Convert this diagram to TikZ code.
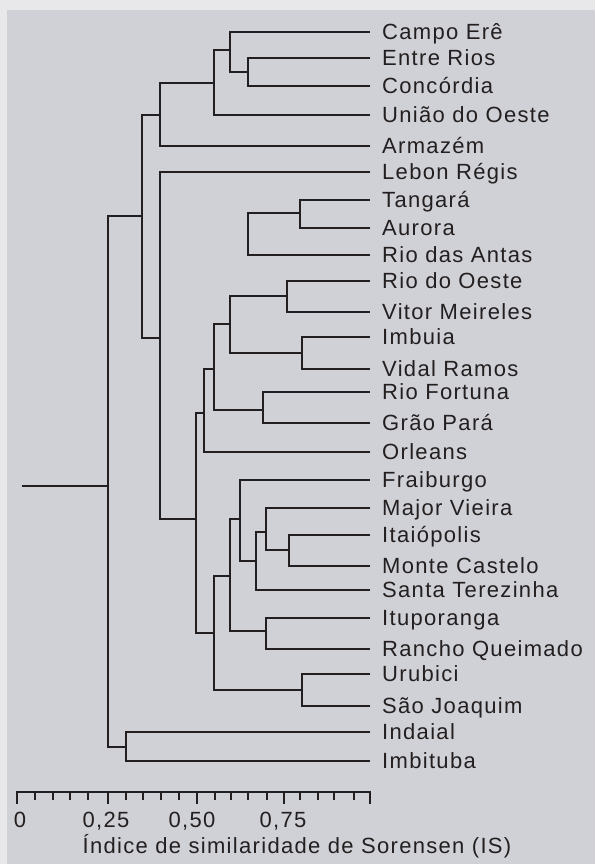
\documentclass[tikz,border=0pt]{standalone}
\usepackage{fontspec}
\setmainfont{Liberation Sans}[LetterSpace=6]
\definecolor{outerbg}{HTML}{E8E8EA}
\definecolor{panelbg}{HTML}{D0D1D6}
\definecolor{ink}{HTML}{231F20}
\begin{document}
\begin{tikzpicture}[x=1pt,y=-1pt,
    branch/.style={draw=ink,line width=2.8pt},
    leaf/.style={anchor=west,inner xsep=12pt,inner ysep=0pt,text height=15.8pt,text depth=0pt,
        text=ink,font=\fontsize{22}{24}\selectfont},
    scalelab/.style={anchor=base,inner sep=0pt,text=ink,font=\fontsize{22}{24}\selectfont}]
    \fill[outerbg] (0,0) rectangle (595,864);
    \fill[panelbg] (7,10) rectangle (595,864);

    \node[leaf] (campo) at (370,32) {Campo Erê};
    \node[leaf] (entre) at (370,58) {Entre Rios};
    \node[leaf] (concordia) at (370,86) {Concórdia};
    \node[leaf] (uniao) at (370,115) {União do Oeste};
    \node[leaf] (armazem) at (370,146) {Armazém};
    \node[leaf] (lebon) at (370,172) {Lebon Régis};
    \node[leaf] (tangara) at (370,200) {Tangará};
    \node[leaf] (aurora) at (370,228) {Aurora};
    \node[leaf] (antas) at (370,255) {Rio das Antas};
    \node[leaf] (riooeste) at (370,281) {Rio do Oeste};
    \node[leaf] (vitor) at (370,312) {Vitor Meireles};
    \node[leaf] (imbuia) at (370,337) {Imbuia};
    \node[leaf] (vidal) at (370,369) {Vidal Ramos};
    \node[leaf] (fortuna) at (370,392) {Rio Fortuna};
    \node[leaf] (grao) at (370,423) {Grão Pará};
    \node[leaf] (orleans) at (370,452) {Orleans};
    \node[leaf] (fraiburgo) at (370,480) {Fraiburgo};
    \node[leaf] (major) at (370,508) {Major Vieira};
    \node[leaf] (itaiopolis) at (370,535) {Itaiópolis};
    \node[leaf] (monte) at (370,566) {Monte Castelo};
    \node[leaf] (santa) at (370,590) {Santa Terezinha};
    \node[leaf] (ituporanga) at (370,618) {Ituporanga};
    \node[leaf] (rancho) at (370,649) {Rancho Queimado};
    \node[leaf] (urubici) at (370,674) {Urubici};
    \node[leaf] (saojoaquim) at (370,706) {São Joaquim};
    \node[leaf] (indaial) at (370,732) {Indaial};
    \node[leaf] (imbituba) at (370,761) {Imbituba};

    \coordinate (nEC) at (248,72);
    \coordinate (nCE) at (230,50);
    \coordinate (nUO) at (214,83);
    \coordinate (nAR) at (160,115);
    \coordinate (nTop) at (142,216);
    \coordinate (nLB) at (160,338);
    \coordinate (nTA) at (300,213);
    \coordinate (nTR) at (248,234);
    \coordinate (nRV) at (287,296);
    \coordinate (nIV) at (302,353);
    \coordinate (nJ) at (230,324);
    \coordinate (nFG) at (263,410);
    \coordinate (nL) at (214,369);
    \coordinate (nOR) at (204,413);
    \coordinate (nG) at (196,519);
    \coordinate (nIM) at (289,550);
    \coordinate (nMJ) at (266,532);
    \coordinate (nST) at (256,561);
    \coordinate (nFR) at (240,519);
    \coordinate (nIR) at (266,631);
    \coordinate (nF) at (230,576);
    \coordinate (nUS) at (302,690);
    \coordinate (nS) at (214,633);
    \coordinate (nIB) at (126,747);
    \coordinate (root) at (108,486);
    \coordinate (stub) at (22,486);

    \draw[branch] (entre.west) -| (nEC) |- (concordia.west);
    \draw[branch] (campo.west) -| (nCE) |- (nEC);
    \draw[branch] (nCE) -| (nUO) |- (uniao.west);
    \draw[branch] (nUO) -| (nAR) |- (armazem.west);
    \draw[branch] (nAR) -| (nTop) |- (nLB);
    \draw[branch] (lebon.west) -| (nLB) |- (nG);
    \draw[branch] (tangara.west) -| (nTA) |- (aurora.west);
    \draw[branch] (nTA) -| (nTR) |- (antas.west);
    \draw[branch] (riooeste.west) -| (nRV) |- (vitor.west);
    \draw[branch] (imbuia.west) -| (nIV) |- (vidal.west);
    \draw[branch] (nRV) -| (nJ) |- (nIV);
    \draw[branch] (fortuna.west) -| (nFG) |- (grao.west);
    \draw[branch] (nJ) -| (nL) |- (nFG);
    \draw[branch] (nL) -| (nOR) |- (orleans.west);
    \draw[branch] (nOR) -| (nG) |- (nS);
    \draw[branch] (itaiopolis.west) -| (nIM) |- (monte.west);
    \draw[branch] (major.west) -| (nMJ) |- (nIM);
    \draw[branch] (nMJ) -| (nST) |- (santa.west);
    \draw[branch] (fraiburgo.west) -| (nFR) |- (nST);
    \draw[branch] (ituporanga.west) -| (nIR) |- (rancho.west);
    \draw[branch] (nFR) -| (nF) |- (nIR);
    \draw[branch] (urubici.west) -| (nUS) |- (saojoaquim.west);
    \draw[branch] (nF) -| (nS) |- (nUS);
    \draw[branch] (indaial.west) -| (nIB) |- (imbituba.west);
    \draw[branch] (nTop) -| (root) |- (nIB);
    \draw[branch] (stub) -- (root);

    \draw[branch] (17,804) -- (17,792) -- (370,792) -- (370,804);
    \foreach \tx in {108,197,284}
        \draw[branch] (\tx,792) -- (\tx,804);
    \foreach \tx in {35,53,70,88,126,143,161,179,215,231,248,267,300,318,334,354}
        \draw[branch] (\tx,792) -- (\tx,800);
    \node[scalelab] (s0) at (20,827) {0};
    \node[scalelab] (s25) at (106,827) {0,25};
    \node[scalelab] (s50) at (192,827) {0,50};
    \node[scalelab] (s75) at (283,827) {0,75};
    \node[scalelab] (axislab) at (297,853) {Índice de similaridade de Sorensen (IS)};
\end{tikzpicture}
\end{document}
